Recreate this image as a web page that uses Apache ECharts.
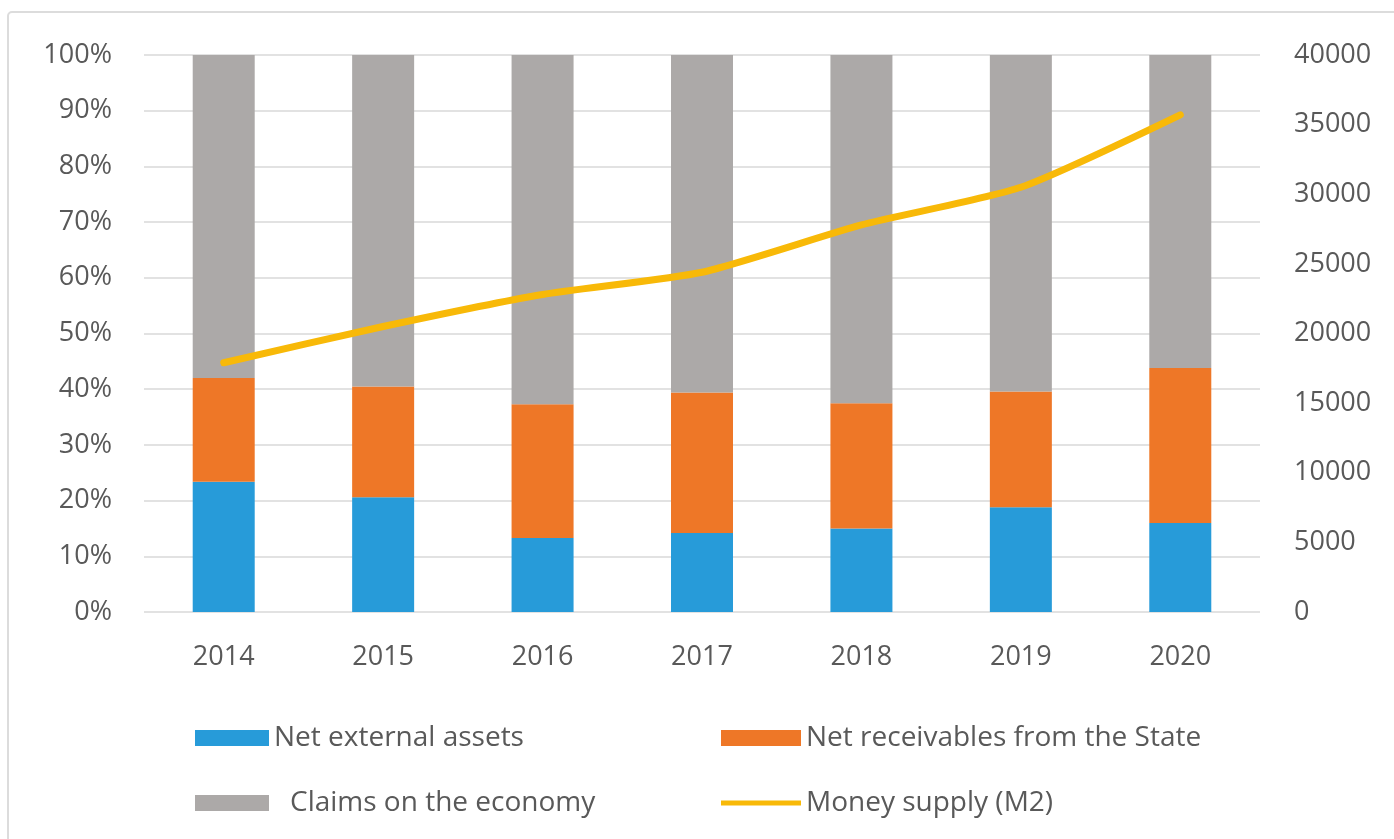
<!DOCTYPE html>
<html>
<head>
<meta charset="utf-8">
<script src="https://cdn.jsdelivr.net/npm/echarts@6/dist/echarts.min.js"></script>
<style>
  html, body { margin: 0; padding: 0; background: #fff; }
  #main { width: 1394px; height: 839px; }
</style>
</head>
<body>
<div id="main"></div>
<script>
// data
var years = ['2014', '2015', '2016', '2017', '2018', '2019', '2020'];
var netExternal = [23.4, 20.6, 13.3, 14.2, 15.0, 18.8, 16.0];
var netState = [18.6, 19.9, 24.0, 25.2, 22.5, 20.8, 27.8];
var claims = [58.0, 59.5, 62.7, 60.6, 62.5, 60.4, 56.2];
var moneySupply = [17900, 20500, 22800, 24400, 27800, 30500, 35700];

var font = 'Open Sans';
var txt = '#595959';

var myChart = echarts.init(document.getElementById('main'));

function legendAt(name, left, top, w, h, gap) {
    return {
        data: [name],
        left: left,
        top: top,
        icon: 'rect',
        itemWidth: w,
        itemHeight: h,
        itemGap: 0,
        selectedMode: false,
        textStyle: { fontFamily: font, fontSize: 28, color: txt, padding: [0, 0, 0, gap] }
    };
}

var option = {
    backgroundColor: '#fff',
    animation: false,
    graphic: [{
        type: 'rect',
        shape: { x: 8, y: 12, width: 1420, height: 860, r: 4 },
        style: { fill: 'none', stroke: '#dcdcdc', lineWidth: 2 },
        silent: true
    }],
    legend: [
        legendAt('Net external assets', 190, 719, 74, 16, 0),
        legendAt('Net receivables from the State', 716, 719, 80, 16, 0),
        legendAt('Claims on the economy', 190, 784, 74, 16, 16),
        legendAt('Money supply (M2)', 716, 784, 80, 5, 0)
    ],
    grid: { left: 144, right: 134, top: 55, bottom: 227 },
    xAxis: {
        type: 'category',
        data: years,
        axisLine: { show: false },
        axisTick: { show: false },
        axisLabel: { fontFamily: font, fontSize: 27, color: txt, margin: 32 }
    },
    yAxis: [
        {
            type: 'value',
            min: 0,
            max: 100,
            interval: 10,
            axisLine: { show: false },
            axisTick: { show: false },
            axisLabel: { formatter: '{value}%', fontFamily: font, fontSize: 27, color: txt, margin: 32 },
            splitLine: { lineStyle: { color: '#e2e2e2', width: 2 } }
        },
        {
            type: 'value',
            min: 0,
            max: 40000,
            interval: 5000,
            axisLine: { show: false },
            axisTick: { show: false },
            axisLabel: {
                formatter: function (v) { return String(v); },
                fontFamily: font, fontSize: 27, color: txt, margin: 34
            },
            splitLine: { show: false }
        }
    ],
    series: [
        {
            name: 'Net external assets',
            type: 'bar',
            stack: 'share',
            barWidth: 62,
            data: netExternal,
            itemStyle: { color: '#279bd9' }
        },
        {
            name: 'Net receivables from the State',
            type: 'bar',
            stack: 'share',
            data: netState,
            itemStyle: { color: '#ee7727' }
        },
        {
            name: 'Claims on the economy',
            type: 'bar',
            stack: 'share',
            data: claims,
            itemStyle: { color: '#aca9a8' }
        },
        {
            name: 'Money supply (M2)',
            type: 'line',
            yAxisIndex: 1,
            data: moneySupply,
            smooth: 0.2,
            symbol: 'none',
            z: 5,
            itemStyle: { color: '#f8b908' },
            lineStyle: { color: '#f8b908', width: 7, cap: 'round', join: 'round' }
        }
    ]
};

myChart.setOption(option);
</script>
</body>
</html>
